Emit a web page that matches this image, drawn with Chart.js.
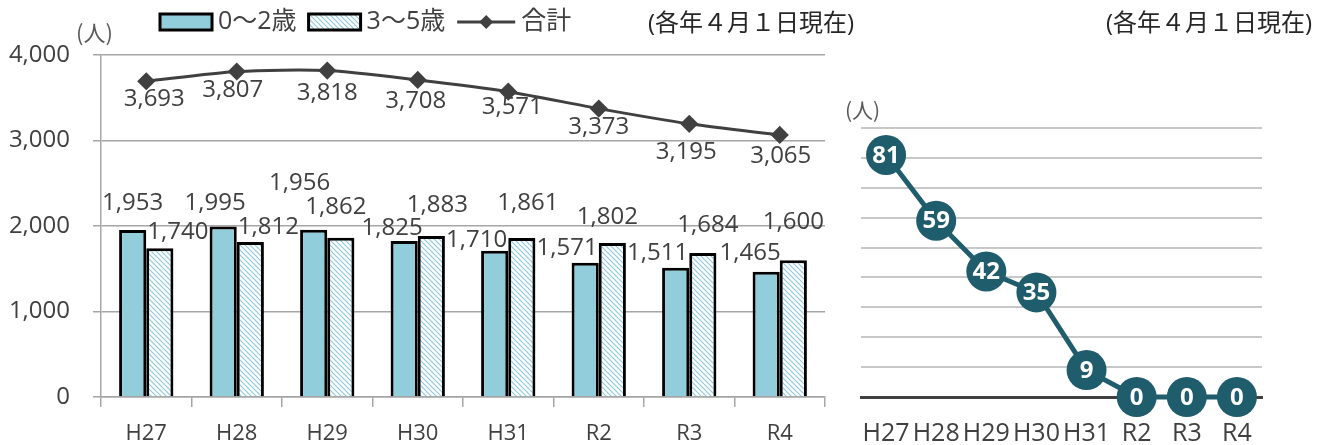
<!DOCTYPE html>
<html lang="ja">
<head>
<meta charset="utf-8">
<title>保育所等利用児童数・待機児童数</title>
<script src="https://cdn.jsdelivr.net/npm/chart.js@4.4.0/dist/chart.umd.min.js"></script>
<style>
    html, body { margin: 0; padding: 0; background: #fff; }
    body {
        width: 1317px; height: 445px; position: relative; overflow: hidden;
        font-family: "Open Sans", "Noto Sans CJK JP", sans-serif; color: #262626;
    }
    .box { position: absolute; top: 0; height: 445px; }
    #leftBox { left: 0; width: 840px; }
    #rightBox { left: 840px; width: 477px; }
    .note { position: absolute; font-size: 24px; line-height: 24px; white-space: nowrap; }
    .unit { position: absolute; color: #595959; white-space: nowrap; font-family: "Noto Sans CJK JP", sans-serif; }
</style>
</head>
<body>
<div class="box" id="leftBox"><canvas id="chartChildren"></canvas></div>
<div class="box" id="rightBox"><canvas id="chartWaiting"></canvas></div>
<div class="note" style="left:648px; top:10px;">(各年４月１日現在)</div>
<div class="note" style="left:1106px; top:10px;">(各年４月１日現在)</div>
<div class="unit" style="left:76px; top:18px; font-size:22px; line-height:26px;">(人)</div>
<div class="unit" style="left:845px; top:96px; font-size:21px; line-height:26px;">(人)</div>
<script>
(function () {
    "use strict";

    // Data
    const categories = ["H27", "H28", "H29", "H30", "H31", "R2", "R3", "R4"];
    const age0to2 = [1953, 1995, 1956, 1825, 1710, 1571, 1511, 1465];
    const age3to5 = [1740, 1812, 1862, 1883, 1861, 1802, 1684, 1600];
    const totals = [3693, 3807, 3818, 3708, 3571, 3373, 3195, 3065];
    const yTicks = [0, 1000, 2000, 3000, 4000];
    const waiting = [81, 59, 42, 35, 9, 0, 0, 0];
    const waitingTicks = [0, 10, 20, 30, 40, 50, 60, 70, 80, 90];

    // label nudges (px, relative to the mark)
    const nudge0to2 = { dx: [0, -8, -14, -12, -18, -18, -18, -16], dy: [-27, -23, -47, -13, -11, -15, -15, -19] };
    const nudge3to5 = { dx: [18, 18, -5, 6, 6, -5, 5, 0], dy: [-16, -15, -31, -31, -35, -26, -28, -38] };
    const nudgeTotal = { dx: [8, -4, 0, -2, 4, 0, -3, 1], dy: [18, 19, 23, 21, 15, 19, 28, 21] };

    const FONT = '"Open Sans", "Noto Sans CJK JP", sans-serif';
    const TEXT = "#404040";
    const fmt = (n) => Number(n).toLocaleString("en-US");

    function makeHatch() {
        const s = 5;
        const c = document.createElement("canvas");
        c.width = s; c.height = s;
        const g = c.getContext("2d");
        g.fillStyle = "#ffffff";
        g.fillRect(0, 0, s, s);
        g.strokeStyle = "#8cc8dc";
        g.lineWidth = 1.1;
        g.beginPath();
        g.moveTo(-1, -1); g.lineTo(s + 1, s + 1);
        g.moveTo(s - 1, -1); g.lineTo(s + 1, 1);
        g.moveTo(-1, s - 1); g.lineTo(1, s + 1);
        g.stroke();
        return g.createPattern(c, "repeat");
    }

    // value labels drawn next to each mark
    const valueLabels = {
        id: "valueLabels",
        afterDatasetsDraw(chart) {
            const ctx = chart.ctx;
            ctx.save();
            chart.data.datasets.forEach((ds, di) => {
                const meta = chart.getDatasetMeta(di);
                const nd = ds.labelNudge;
                ctx.font = "24px " + FONT;
                ctx.fillStyle = TEXT;
                ctx.textAlign = "center";
                ctx.textBaseline = "middle";
                meta.data.forEach((el, i) => {
                    const dx = nd ? nd.dx[i] : 0;
                    const dy = nd ? nd.dy[i] : 0;
                    ctx.fillText(fmt(ds.data[i]), el.x + dx, el.y + dy);
                });
            });
            ctx.restore();
        },
    };

    // legend at the top of the left chart
    const topLegend = {
        id: "topLegend",
        afterDraw(chart, args, opts) {
            const ctx = chart.ctx;
            ctx.save();
            ctx.font = "25px " + FONT;
            ctx.textBaseline = "middle";
            ctx.textAlign = "left";
            let x = opts.x;
            const y = opts.y;
            chart.data.datasets.forEach((ds) => {
                if (ds.type === "line") {
                    ctx.strokeStyle = ds.borderColor;
                    ctx.lineWidth = 3;
                    ctx.beginPath();
                    ctx.moveTo(x, y); ctx.lineTo(x + 58, y);
                    ctx.stroke();
                    ctx.fillStyle = ds.borderColor;
                    ctx.beginPath();
                    ctx.moveTo(x + 29, y - 7); ctx.lineTo(x + 36, y);
                    ctx.lineTo(x + 29, y + 7); ctx.lineTo(x + 22, y);
                    ctx.closePath(); ctx.fill();
                    x += 64;
                } else {
                    ctx.fillStyle = ds.backgroundColor;
                    ctx.fillRect(x, y - 8, 52, 16);
                    ctx.strokeStyle = "#000";
                    ctx.lineWidth = 3;
                    ctx.strokeRect(x, y - 8, 52, 16);
                    x += 58;
                }
                ctx.fillStyle = TEXT;
                ctx.fillText(ds.label, x, y);
                x += ctx.measureText(ds.label).width + 12;
            });
            ctx.restore();
        },
    };

    // ============================
    // 1. Children by age (bars + total line)
    // ============================
    function drawChildrenChart() {
        const canvas = document.getElementById("chartChildren");
        canvas.width = 840; canvas.height = 445;

        new Chart(canvas, {
            data: {
                labels: categories,
                datasets: [
                    {
                        type: "bar",
                        label: "0～2歳",
                        data: age0to2,
                        backgroundColor: "#92cddc",
                        borderColor: "#000",
                        borderWidth: 3,
                        categoryPercentage: 0.6,
                        barPercentage: 1,
                        order: 1,
                        labelNudge: nudge0to2,
                    },
                    {
                        type: "bar",
                        label: "3～5歳",
                        data: age3to5,
                        backgroundColor: makeHatch(),
                        borderColor: "#000",
                        borderWidth: 3,
                        categoryPercentage: 0.6,
                        barPercentage: 1,
                        order: 2,
                        labelNudge: nudge3to5,
                    },
                    {
                        type: "line",
                        label: "合計",
                        data: totals,
                        borderColor: "#404040",
                        backgroundColor: "#404040",
                        borderWidth: 3,
                        tension: 0.25,
                        pointStyle: "rectRot",
                        pointRadius: 7,
                        pointBackgroundColor: "#404040",
                        pointBorderColor: "#404040",
                        order: 0,
                        labelNudge: nudgeTotal,
                    },
                ],
            },
            options: {
                responsive: false,
                animation: false,
                layout: { padding: { top: 55, right: 15, left: 0, bottom: 0 } },
                plugins: {
                    legend: { display: false },
                    tooltip: { enabled: false },
                    topLegend: { x: 160, y: 22 },
                },
                scales: {
                    x: {
                        afterFit: (s) => { s.height = 48; },
                        grid: { drawOnChartArea: false, offset: true, tickLength: 10, color: "#a6a6a6", lineWidth: 1.5 },
                        border: { color: "#a6a6a6", width: 1.5 },
                        ticks: { autoSkip: false, maxRotation: 0, padding: 14, color: TEXT, font: { family: FONT, size: 22 } },
                    },
                    y: {
                        min: 0,
                        max: 4000,
                        afterFit: (s) => { s.width = 101; },
                        afterBuildTicks: (s) => { s.ticks = yTicks.map((v) => ({ value: v })); },
                        grid: { tickLength: 8, color: "#a6a6a6", lineWidth: 1.5 },
                        border: { color: "#a6a6a6", width: 1.5 },
                        ticks: {
                            padding: 23,
                            color: TEXT,
                            font: { family: FONT, size: 24 },
                            callback: (v) => fmt(v),
                        },
                    },
                },
            },
            plugins: [valueLabels, topLegend],
        });
    }

    // ============================
    // 2. Waiting children
    // ============================
    const bubbleLabels = {
        id: "bubbleLabels",
        afterDatasetsDraw(chart) {
            const ctx = chart.ctx;
            const meta = chart.getDatasetMeta(0);
            ctx.save();
            ctx.font = "bold 24px " + FONT;
            ctx.fillStyle = "#ffffff";
            ctx.textAlign = "center";
            ctx.textBaseline = "middle";
            meta.data.forEach((el, i) => {
                ctx.fillText(String(waiting[i]), el.x, el.y + 1);
            });
            ctx.restore();
        },
    };

    function drawWaitingChart() {
        const canvas = document.getElementById("chartWaiting");
        canvas.width = 477; canvas.height = 445;
        const teal = "#1f5c6c";

        new Chart(canvas, {
            type: "line",
            data: {
                labels: categories,
                datasets: [
                    {
                        label: "待機児童数",
                        data: waiting,
                        borderColor: teal,
                        backgroundColor: teal,
                        borderWidth: 5,
                        tension: 0,
                        pointRadius: 20,
                        pointHoverRadius: 20,
                        pointBackgroundColor: teal,
                        pointBorderColor: teal,
                        pointBorderWidth: 0,
                        clip: false,
                    },
                ],
            },
            options: {
                responsive: false,
                animation: false,
                layout: { padding: { top: 128, right: 55, left: 0, bottom: 0 } },
                plugins: {
                    legend: { display: false },
                    tooltip: { enabled: false },
                },
                scales: {
                    x: {
                        offset: true,
                        afterFit: (s) => { s.height = 48; },
                        grid: { display: false },
                        border: { color: "#404040", width: 3 },
                        ticks: { autoSkip: false, maxRotation: 0, padding: 14, color: TEXT, font: { family: FONT, size: 25 } },
                    },
                    y: {
                        min: 0,
                        max: 90,
                        afterFit: (s) => { s.width = 21; },
                        afterBuildTicks: (s) => { s.ticks = waitingTicks.map((v) => ({ value: v })); },
                        grid: {
                            drawTicks: false,
                            color: (c) => (c.tick && c.tick.value === 0 ? "#404040" : "#c8c8c8"),
                            lineWidth: (c) => (c.tick && c.tick.value === 0 ? 3 : 2),
                        },
                        border: { display: false },
                        ticks: { display: false },
                    },
                },
            },
            plugins: [bubbleLabels],
        });
    }

    drawChildrenChart();
    drawWaitingChart();
})();
</script>
</body>
</html>
